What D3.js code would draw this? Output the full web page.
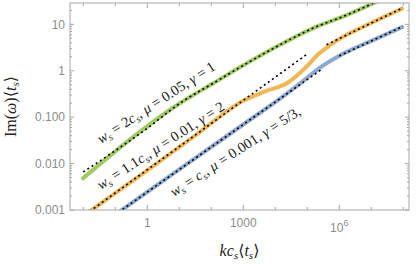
<!DOCTYPE html>
<html>
<head>
<meta charset="utf-8">
<script src="https://cdn.jsdelivr.net/npm/d3@7"></script>
<style>
  body { margin: 0; background: #fff; }
  .tick { font-family: "Liberation Sans", Arial, sans-serif; }
  .math { font-family: "Liberation Serif", "DejaVu Serif", serif; }
</style>
</head>
<body>
<svg id="chart" width="416" height="267"></svg>
<script>
// values, [k c_s <t_s>, Im(w) <t_s>]
let greenCurve = [[0.00891, 0.00457], [10.47, 0.1995], [114.8, 0.537], [1288, 1.445], [14125, 3.63],
  [154900, 8.32], [1.698e6, 15.85], [1.479e7, 30.9]];
let greenFit = [[0.01, 0.0066], [0.1, 0.019], [1, 0.0575], [10.47, 0.1995], [114.8, 0.537], [1288, 1.445],
  [14125, 3.63], [154900, 8.32], [1.698e6, 15.85], [1.479e7, 30.9]];

let orangeCurve = [[0.01585, 0.000933], [1, 0.00716], [31.6, 0.0403], [1000, 0.2265], [5012, 0.363],
  [22900, 0.537], [95500, 1.23], [223900, 2.29], [512900, 3.55], [1.778e6, 6.03], [5.62e6, 8.91], [1e8, 22.4]];
let orangeFitLow = [[0.01585, 0.000933], [107150, 2.37]];
let orangeFitHigh = [[398100, 3.63], [1e8, 22.9]];

let blueCurve = [[0.126, 0.000891], [10, 0.00747], [1288, 0.0787], [14125, 0.251], [63100, 0.55],
  [251200, 1.175], [1.047e6, 2.14], [1.148e7, 4.57], [1e8, 8.91]];
let blueFitLow = [[0.126, 0.000891], [281800, 1.07]];
let blueFitHigh = [[1e6, 2.09], [1e8, 9.12]];

let yTicks = [0.001, 0.01, 0.1, 1, 10];
let yTickLabels = ["0.001", "0.010", "0.100", "1", "10"];
let xTicks = [1, 1000, 1e6];

// label pieces: [text, style]  i = italic, s = subscript
let labels = [
  { k: 0.0355, w: 0.0265, parts: [["w", "i"], ["s", "s"], [" = 2", ""], ["c", "i"], ["s", "s"], [", ", ""], ["\u03bc", "i"], [" = 0.05, ", ""], ["\u03b3", "i"], [" = 1", ""]] },
  { k: 0.0355, w: 0.0027, parts: [["w", "i"], ["s", "s"], [" = 1.1", ""], ["c", "i"], ["s", "s"], [", ", ""], ["\u03bc", "i"], [" = 0.01, ", ""], ["\u03b3", "i"], [" = 2", ""]] },
  { k: 6.8, w: 0.0019, parts: [["w", "i"], ["s", "s"], [" = ", ""], ["c", "i"], ["s", "s"], [", ", ""], ["\u03bc", "i"], [" = 0.001, ", ""], ["\u03b3", "i"], [" = 5/3,", ""]] }
];

let colors = { green: "#9fcb5e", orange: "#f0b752", blue: "#8ea9d1" };

let svg = d3.select("#chart");
let pLeft = 70, pRight = 409, pTop = 3, pBottom = 210;

let x = d3.scaleLog().domain([Math.pow(10, -2.415), Math.pow(10, 8.18)]).range([pLeft, pRight]);
let y = d3.scaleLog().domain([0.001, Math.pow(10, 1.46)]).range([pBottom, pTop]);

svg.append("defs").append("clipPath").attr("id", "plotclip")
  .append("rect").attr("x", pLeft).attr("y", pTop).attr("width", pRight - pLeft).attr("height", pBottom - pTop);

let line = d3.line().x((d) => x(d[0])).y((d) => y(d[1])).curve(d3.curveMonotoneX);

let plot = svg.append("g").attr("clip-path", "url(#plotclip)");

// coloured curves
[[greenCurve, colors.green], [orangeCurve, colors.orange], [blueCurve, colors.blue]].forEach((c) => {
  plot.append("path").datum(c[0])
    .attr("d", line)
    .attr("fill", "none")
    .attr("stroke", c[1])
    .attr("stroke-width", 4)
    .attr("stroke-linejoin", "round");
});

// black dashed asymptotes on top
[greenFit, orangeFitLow, orangeFitHigh, blueFitLow, blueFitHigh].forEach((d) => {
  plot.append("path").datum(d)
    .attr("d", line)
    .attr("fill", "none")
    .attr("stroke", "#000")
    .attr("stroke-width", 1.6)
    .attr("stroke-dasharray", "2,3");
});

// frame
svg.append("rect")
  .attr("x", pLeft).attr("y", pTop)
  .attr("width", pRight - pLeft).attr("height", pBottom - pTop)
  .attr("fill", "none").attr("stroke", "#a6a6a6").attr("stroke-width", 1);

let tickColor = "#a6a6a6";
// y ticks, major and minor, both sides
let yMinor = [];
for (let e = -3; e <= 1; e++) for (let m = 1; m <= 9; m++) {
  let v = m * Math.pow(10, e);
  if (v <= y.domain()[1]) yMinor.push([v, m === 1]);
}
svg.append("g").selectAll("line.yl").data(yMinor).enter().append("line")
  .attr("x1", pLeft).attr("x2", (d) => pLeft + (d[1] ? 4 : 2))
  .attr("y1", (d) => y(d[0])).attr("y2", (d) => y(d[0]))
  .attr("stroke", tickColor);
svg.append("g").selectAll("line.yr").data(yMinor).enter().append("line")
  .attr("x1", pRight).attr("x2", (d) => pRight - (d[1] ? 4 : 2))
  .attr("y1", (d) => y(d[0])).attr("y2", (d) => y(d[0]))
  .attr("stroke", tickColor);

// x ticks at every decade, top and bottom
let xDecades = d3.range(-2, 9).map((e) => Math.pow(10, e));
svg.append("g").selectAll("line.xb").data(xDecades).enter().append("line")
  .attr("x1", (d) => x(d)).attr("x2", (d) => x(d))
  .attr("y1", pBottom).attr("y2", (d) => pBottom - (xTicks.includes(d) ? 5 : 3))
  .attr("stroke", tickColor);
svg.append("g").selectAll("line.xt").data(xDecades).enter().append("line")
  .attr("x1", (d) => x(d)).attr("x2", (d) => x(d))
  .attr("y1", pTop).attr("y2", (d) => pTop + (xTicks.includes(d) ? 5 : 3))
  .attr("stroke", tickColor);

// tick labels
let labelGray = "#8c8c8c";
svg.append("g").selectAll("text").data(yTicks).enter().append("text")
  .attr("class", "tick")
  .attr("x", pLeft - 5).attr("y", (d) => y(d)).attr("dy", "0.36em")
  .attr("text-anchor", "end").attr("font-size", 12).attr("fill", labelGray)
  .text((d, i) => yTickLabels[i]);

let xl = svg.append("g").selectAll("text").data(xTicks).enter().append("text")
  .attr("class", "tick")
  .attr("x", (d) => x(d)).attr("y", (d) => d >= 1e6 ? 232 : 227)
  .attr("text-anchor", "middle").attr("font-size", 12).attr("fill", labelGray);
xl.each(function (d) {
  let t = d3.select(this);
  if (d >= 1e6) {
    t.append("tspan").text("10");
    t.append("tspan").attr("dy", -6).attr("font-size", 9).text(Math.round(Math.log10(d)));
  } else {
    t.text(d);
  }
});

// curve labels
function writeParts(t, parts, size) {
  let shifted = false;
  parts.forEach((p) => {
    let ts = t.append("tspan").text(p[0]);
    if (p[1] === "i" || p[1] === "s") ts.attr("font-style", "italic");
    if (p[1] === "s") {
      ts.attr("font-size", size * 0.7).attr("dy", size * 0.2);
      shifted = true;
    } else if (shifted) {
      ts.attr("dy", -size * 0.2);
      shifted = false;
    }
  });
}
labels.forEach((l) => {
  let t = svg.append("text")
    .attr("class", "math")
    .attr("transform", `translate(${x(l.k)},${y(l.w)}) rotate(-33)`)
    .attr("font-size", 14.5).attr("fill", "#222")
    .style("white-space", "pre");
  writeParts(t, l.parts, 14.5);
});

// axis titles
let yt = svg.append("text")
  .attr("class", "math")
  .attr("transform", `translate(16,${(pTop + pBottom) / 2}) rotate(-90)`)
  .attr("text-anchor", "middle").attr("font-size", 16).attr("fill", "#222");
writeParts(yt, [["Im(", ""], ["\u03c9", "i"], [")\u27e8", ""], ["t", "i"], ["s", "s"], ["\u27e9", ""]], 16);

let xt = svg.append("text")
  .attr("class", "math")
  .attr("x", (pLeft + pRight) / 2).attr("y", 256)
  .attr("text-anchor", "middle").attr("font-size", 16).attr("fill", "#222");
writeParts(xt, [["kc", "i"], ["s", "s"], ["\u27e8", ""], ["t", "i"], ["s", "s"], ["\u27e9", ""]], 16);
</script>
</body>
</html>
